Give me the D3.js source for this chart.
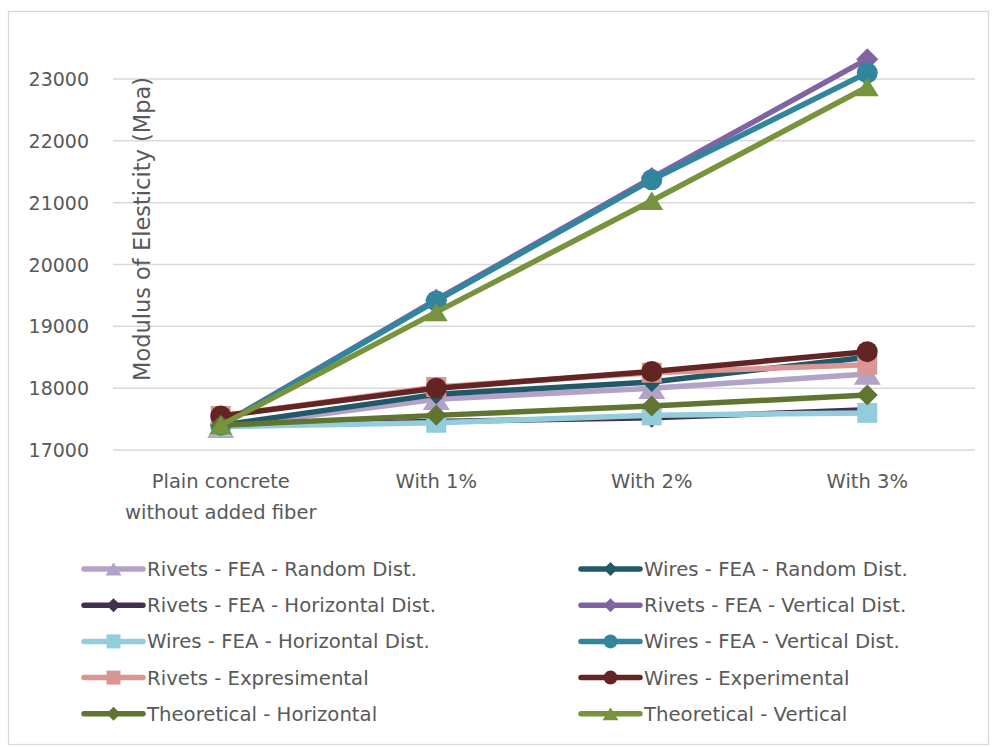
<!DOCTYPE html>
<html>
<head>
<meta charset="utf-8">
<script src="https://cdn.jsdelivr.net/npm/d3@7"></script>
<style>
  html, body { margin: 0; padding: 0; background: #ffffff; }
  svg { display: block; }
  text { font-family: "DejaVu Sans", sans-serif; fill: #595959; }
</style>
</head>
<body>
<svg id="chart" width="994" height="747"></svg>
<script>
// Categories along the x axis (second line of the first label wraps)
const categories = ["Plain concrete|without added fiber", "With 1%", "With 2%", "With 3%"];

// Y axis tick values
const yTicks = [17000, 18000, 19000, 20000, 21000, 22000, 23000];

// Modulus of elasticity (MPa) per series
const rivetsRandom     = [17370, 17820, 18000, 18230];
const wiresRandom      = [17400, 17900, 18100, 18500];
const rivetsHorizontal = [17400, 17460, 17520, 17650];
const rivetsVertical   = [17400, 19430, 21400, 23320];
const wiresHorizontal  = [17380, 17440, 17560, 17600];
const wiresVertical    = [17400, 19410, 21370, 23100];
const rivetsExp        = [17550, 18020, 18250, 18380];
const wiresExp         = [17550, 18000, 18270, 18590];
const theoHorizontal   = [17400, 17560, 17710, 17890];
const theoVertical     = [17400, 19230, 21030, 22870];

// Series names, in drawing order
const seriesNames = [
  "Rivets - FEA - Random Dist.",
  "Wires - FEA - Random Dist.",
  "Rivets - FEA - Horizontal Dist.",
  "Rivets - FEA - Vertical Dist.",
  "Wires - FEA - Horizontal Dist.",
  "Wires - FEA - Vertical Dist.",
  "Rivets - Expresimental",
  "Wires - Experimental",
  "Theoretical - Horizontal",
  "Theoretical - Vertical"
];
const seriesValues = [rivetsRandom, wiresRandom, rivetsHorizontal, rivetsVertical,
  wiresHorizontal, wiresVertical, rivetsExp, wiresExp, theoHorizontal, theoVertical];

// Styling per series
const styles = [
  { color: "#b3a2c7", shape: "triangle", size: 27 },
  { color: "#215968", shape: "diamond",  size: 20 },
  { color: "#403151", shape: "diamond",  size: 20 },
  { color: "#8064a2", shape: "diamond",  size: 22 },
  { color: "#93cddd", shape: "square",   size: 20 },
  { color: "#31859c", shape: "circle",   size: 21 },
  { color: "#d99694", shape: "square",   size: 20 },
  { color: "#632523", shape: "circle",   size: 21 },
  { color: "#5f7530", shape: "diamond",  size: 21 },
  { color: "#77933c", shape: "triangle", size: 23 }
];

const series = seriesNames.map((name, i) => ({ name, values: seriesValues[i], ...styles[i] }));

const svg = d3.select("#chart");

// Chart frame
svg.append("rect")
  .attr("x", 8.5).attr("y", 11.5)
  .attr("width", 980).attr("height", 733)
  .attr("fill", "#ffffff")
  .attr("stroke", "#d9d9d9").attr("stroke-width", 1.3);

const plotLeft = 113, plotRight = 975;
const x = d3.scaleBand().domain(categories).range([plotLeft, plotRight]);
const y = d3.scaleLinear().domain([17000, 23000]).range([450, 79]);
const cx = c => x(c) + x.bandwidth() / 2;

// Gridlines
svg.append("g")
  .selectAll("line")
  .data(yTicks)
  .join("line")
  .attr("x1", plotLeft).attr("x2", plotRight)
  .attr("y1", d => y(d)).attr("y2", d => y(d))
  .attr("stroke", "#d9d9d9").attr("stroke-width", 1.5);

// Y axis labels
const yAxis = d3.axisLeft(y).tickValues(yTicks).tickSize(0).tickPadding(0).tickFormat(d3.format("d"));
const yg = svg.append("g").attr("transform", "translate(89,0)").call(yAxis);
yg.select(".domain").remove();
yg.selectAll("text")
  .attr("font-family", "DejaVu Sans")
  .attr("font-size", 19)
  .attr("fill", "#595959")
  .attr("dy", "0.35em");

// X axis labels (multi-line)
const xAxis = d3.axisBottom(x).tickSize(0).tickFormat("");
const xg = svg.append("g").attr("transform", "translate(0,450)").call(xAxis);
xg.select(".domain").remove();
xg.selectAll(".tick").each(function(d) {
  const t = d3.select(this).append("text")
    .attr("text-anchor", "middle")
    .attr("font-size", 19.5)
    .attr("fill", "#595959");
  d.split("|").forEach((line, i) => {
    t.append("tspan").attr("x", 0).attr("y", 38 + i * 31).text(line);
  });
});

// Y axis title
svg.append("text")
  .attr("transform", "translate(142,229) rotate(-90)")
  .attr("text-anchor", "middle")
  .attr("dominant-baseline", "central")
  .attr("font-size", 22.5)
  .text("Modulus of Elesticity (Mpa)");

// Marker geometry centred on the point
function markerPath(shape, s) {
  const h = s / 2;
  if (shape === "circle") return d3.symbol(d3.symbolCircle, Math.PI * h * h)();
  if (shape === "square") return `M${-h},${-h}H${h}V${h}H${-h}Z`;
  if (shape === "diamond") return `M0,${-h}L${h},0L0,${h}L${-h},0Z`;
  const th = s * 0.8;
  return `M0,${-th / 2}L${h},${th / 2}L${-h},${th / 2}Z`;
}

const line = d3.line().x(d => cx(d.cat)).y(d => y(d.v));

const plot = svg.append("g");
series.forEach(s => {
  const pts = s.values.map((v, i) => ({ cat: categories[i], v }));
  const g = plot.append("g");
  g.append("path")
    .attr("d", line(pts))
    .attr("fill", "none")
    .attr("stroke", s.color)
    .attr("stroke-width", 5.5)
    .attr("stroke-linejoin", "round")
    .attr("stroke-linecap", "round");
  g.selectAll("path.m")
    .data(pts)
    .join("path")
    .attr("class", "m")
    .attr("transform", d => `translate(${cx(d.cat)},${y(d.v)})`)
    .attr("d", markerPath(s.shape, s.size))
    .attr("fill", s.color);
});

// Legend: two columns, filled row by row
const legendCols = [84, 581];
const legendRow0 = 569, legendRowStep = 36.2;
const legend = svg.append("g");
series.forEach((s, i) => {
  const col = i % 2, row = Math.floor(i / 2);
  const lx = legendCols[col], ly = legendRow0 + row * legendRowStep;
  const g = legend.append("g").attr("transform", `translate(${lx},${ly})`);
  g.append("line")
    .attr("x1", 0).attr("x2", 59)
    .attr("y1", 0).attr("y2", 0)
    .attr("stroke", s.color).attr("stroke-width", 5.5)
    .attr("stroke-linecap", "round");
  g.append("path")
    .attr("transform", "translate(29.5,0)")
    .attr("d", markerPath(s.shape, s.shape === "triangle" ? 16 : 14))
    .attr("fill", s.color);
  g.append("text")
    .attr("x", 63).attr("y", 0)
    .attr("dy", "0.36em")
    .attr("font-size", 19.7)
    .text(s.name);
});
</script>
</body>
</html>
